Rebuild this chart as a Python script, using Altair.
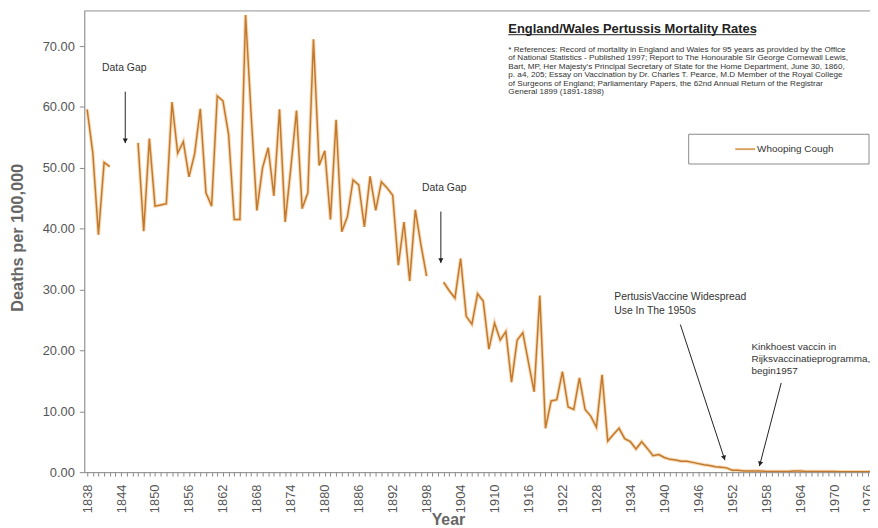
import math
import altair as alt
import pandas as pd

# ---------------- data ----------------
years = list(range(1838, 1978))
rates = [
    59.6, 52.5, 39.0, 50.9, 50.2, None, None, None, None, 54.1,   # 1838-1847
    39.6, 54.8, 43.7, 43.9, 44.1, 60.8, 52.4, 54.3, 48.5, 52.3,   # 1848-1857
    59.7, 45.9, 43.7, 61.8, 61.0, 55.5, 41.5, 41.5, 75.1, 58.5,   # 1858-1867
    43.0, 50.0, 53.3, 45.4, 59.6, 41.1, 50.0, 59.4, 43.3, 45.9,   # 1868-1877
    71.1, 50.4, 52.8, 41.5, 57.9, 39.5, 42.0, 48.0, 47.2, 40.3,   # 1878-1887
    48.6, 43.0, 47.7, 46.7, 45.5, 34.0, 41.1, 31.4, 43.1, 37.3,   # 1888-1897
    32.2, None, None, 31.2, 29.8, 28.6, 35.1, 25.6, 24.3, 29.3,   # 1898-1907
    28.1, 20.2, 24.5, 21.7, 23.1, 14.8, 21.7, 22.9, 18.0, 13.2,   # 1908-1917
    29.0, 7.2, 11.7, 11.9, 16.5, 10.7, 10.3, 15.5, 10.3, 9.2,     # 1918-1927
    7.4, 16.0, 5.1, 6.2, 7.2, 5.5, 5.0, 3.8, 5.0, 3.9,            # 1928-1937
    2.7, 2.9, 2.4, 2.1, 2.0, 1.8, 1.8, 1.6, 1.4, 1.2,             # 1938-1947
    1.1, 0.9, 0.8, 0.7, 0.3, 0.3, 0.2, 0.2, 0.2, 0.2,             # 1948-1957
    0.1, 0.1, 0.1, 0.1, 0.1, 0.2, 0.2, 0.1, 0.1, 0.1,             # 1958-1967
    0.1, 0.1, 0.1, 0.05, 0.05, 0.05, 0.05, 0.05, 0.05, 0.05,      # 1968-1977
]
series_name = "Whooping Cough"

x_ticks = list(range(1838, 1977))
y_ticks = [0, 10, 20, 30, 40, 50, 60, 70]

chart_title = "England/Wales Pertussis Mortality Rates"
ref_lines = [
    "* References: Record of mortality in England and Wales for 95 years as provided by the Office",
    "of National Statistics - Published 1997; Report to The Honourable Sir George Cornewall Lewis,",
    "Bart, MP, Her Majesty's Principal Secretary of State for the Home Department, June 30, 1860,",
    "p. a4, 205; Essay on Vaccination by Dr. Charles T. Pearce, M.D Member of the Royal College",
    "of Surgeons of England; Parliamentary Papers, the 62nd Annual Return of the Registrar",
    "General 1899 (1891-1898)",
]

gap_text = ["Data Gap", "Data Gap"]
gap_year = [1840.63, 1897.18]
gap_val = [66.42, 46.72]

vacc_text = ["PertusisVaccine Widespread", "Use In  The  1950s"]
vacc_year = [1931.15, 1931.15]
vacc_val = [28.81, 26.53]

nl_text = ["Kinkhoest vaccin in", "Rijksvaccinatieprogramma,", "begin1957"]
nl_year = [1955.41, 1955.41, 1955.41]
nl_val = [20.51, 18.56, 16.60]

arrow_year = [1844.74, 1900.51, 1942.83, 1960.66]
arrow_val = [62.51, 42.81, 24.26, 14.65]
arrow_year2 = [1844.74, 1900.51, 1950.71, 1956.81]
arrow_val2 = [54.05, 34.35, 1.95, 0.98]

# ---------------- layout ----------------
W, H = 793, 466
x_dom = [1837.5, 1976.35]
y_dom = [0, 75.86]
px_year = W / (x_dom[1] - x_dom[0])
px_val = H / (y_dom[1] - y_dom[0])

FONT = "Liberation Sans"
AX_GRAY = "#8a8a8a"
LINE_CORE = "#C07A30"
LINE_GLOW = "#F4B468"

# line data with segments split at gaps
rows = []
seg = 0
prev_none = True
for yr, v in zip(years, rates):
    if v is None:
        prev_none = True
        continue
    if prev_none:
        seg += 1
        prev_none = False
    rows.append({"year": yr, "value": v, "seg": seg, "series": series_name})
line_df = pd.DataFrame(rows)

X = alt.X(
    "year:Q",
    scale=alt.Scale(domain=x_dom, nice=False, zero=False),
    axis=alt.Axis(
        values=x_ticks, format="d",
        labelExpr="(datum.value - 1838) % 6 == 0 ? datum.label : ''",
        labelAngle=270, labelAlign="right", labelBaseline="middle",
        labelPadding=8, labelFontSize=13, labelColor="#555555",
        labelOverlap=False, labelFlush=False, labelFont=FONT,
        tickSize=4, tickColor=AX_GRAY, domainColor=AX_GRAY, grid=False,
        title="Year", titleX=367, titleY=48, titleAlign="center",
        titleBaseline="middle", titleFontSize=16, titleFontWeight="bold",
        titleColor="#666666", titleFont=FONT,
    ),
)
Y = alt.Y(
    "value:Q",
    scale=alt.Scale(domain=y_dom, nice=False, zero=True),
    axis=alt.Axis(
        values=y_ticks, format=".2f", labelFontSize=13, labelColor="#555555",
        labelPadding=5, labelFlush=False, labelFont=FONT,
        tickSize=5, tickColor=AX_GRAY, domainColor=AX_GRAY, grid=False,
        title="Deaths per 100,000", titleX=-67, titleY=229, titleAngle=270,
        titleAlign="center", titleBaseline="middle", titleFontSize=16.5,
        titleFontWeight="bold", titleColor="#666666", titleFont=FONT,
    ),
)

one = pd.DataFrame({"k": [0]})

top_border = alt.Chart(one).mark_rule(color="#a0a0a0", strokeWidth=1).encode(
    x=alt.value(0), x2=alt.value(W), y=alt.value(0.5)
)

glow = alt.Chart(line_df).mark_line(
    color=LINE_GLOW, strokeWidth=3.6, opacity=0.5, clip=True
).encode(x=X, y=Y, detail="seg:N")
core = alt.Chart(line_df).mark_line(
    color=LINE_CORE, strokeWidth=1.5, clip=True
).encode(x=X, y=Y, detail="seg:N")

# arrows
arr_df = pd.DataFrame({
    "year": arrow_year, "value": arrow_val,
    "year2": arrow_year2, "value2": arrow_val2,
})
heads = []
for x1, y1, x2, y2 in zip(arrow_year, arrow_val, arrow_year2, arrow_val2):
    dx = (x2 - x1) * px_year
    dy = -(y2 - y1) * px_val
    n = math.hypot(dx, dy)
    ux, uy = dx / n, dy / n
    ang = math.degrees(math.atan2(ux, -uy)) % 360
    heads.append({
        "year": x2 - 2.5 * ux / px_year,
        "value": y2 + 2.5 * uy / px_val,
        "ang": ang,
    })
head_df = pd.DataFrame(heads)

arrows = alt.Chart(arr_df).mark_rule(color="#222222", strokeWidth=1).encode(
    x=X, y=Y, x2="year2:Q", y2="value2:Q"
)
arrowheads = alt.Chart(head_df).mark_point(
    shape="triangle-up", filled=True, color="#222222", size=28, opacity=1
).encode(x=X, y=Y, angle=alt.Angle("ang:Q", scale=None))

gap_df = pd.DataFrame({"year": gap_year, "value": gap_val, "txt": gap_text})
gap_lbl = alt.Chart(gap_df).mark_text(
    align="left", baseline="middle", fontSize=10.5, color="#333333", font=FONT
).encode(x=X, y=Y, text="txt:N")

vacc_df = pd.DataFrame({"year": vacc_year, "value": vacc_val, "txt": vacc_text})
vacc_lbl = alt.Chart(vacc_df).mark_text(
    align="left", baseline="middle", fontSize=10.5, color="#333333", font=FONT
).encode(x=X, y=Y, text="txt:N")

nl_df = pd.DataFrame({"year": nl_year, "value": nl_val, "txt": nl_text})
nl_lbl = alt.Chart(nl_df).mark_text(
    align="left", baseline="middle", fontSize=10, color="#333333", font=FONT
).encode(x=X, y=Y, text="txt:N")

# title block
title_txt = alt.Chart(one).mark_text(
    text=chart_title, align="left", baseline="middle", fontSize=13,
    fontWeight="bold", color="#222222", font=FONT
).encode(x=alt.value(428), y=alt.value(18.5))
title_ul = alt.Chart(one).mark_rule(color="#222222", strokeWidth=1).encode(
    x=alt.value(428), x2=alt.value(678), y=alt.value(24.5)
)
refs = alt.Chart(one).mark_text(
    text=ref_lines, align="left", baseline="top", fontSize=8.2, lineHeight=8.6,
    color="#333333", font=FONT
).encode(x=alt.value(428), y=alt.value(35.5))

# legend box
leg_box = alt.Chart(one).mark_rect(
    fill="white", stroke="#8a8a8a", strokeWidth=1
).encode(x=alt.value(610), x2=alt.value(792), y=alt.value(125), y2=alt.value(155))
leg_line = alt.Chart(one).mark_rule(color="#D9A561", strokeWidth=2).encode(
    x=alt.value(657), x2=alt.value(677), y=alt.value(140)
)
leg_text = alt.Chart(one).mark_text(
    text=series_name, align="left", baseline="middle", fontSize=10,
    color="#333333", font=FONT
).encode(x=alt.value(679), y=alt.value(140))

chart = alt.layer(
    top_border, glow, core, arrows, arrowheads, gap_lbl, vacc_lbl, nl_lbl,
    title_txt, title_ul, refs, leg_box, leg_line, leg_text,
).properties(
    width=W, height=H,
    padding={"left": 77, "top": 0, "right": 0, "bottom": 60},
    autosize=alt.AutoSizeParams(type="none"),
    background="white",
).configure_view(stroke="transparent").configure(font=FONT)

chart.save("out.html", embed_options={"renderer": "svg", "actions": False})
